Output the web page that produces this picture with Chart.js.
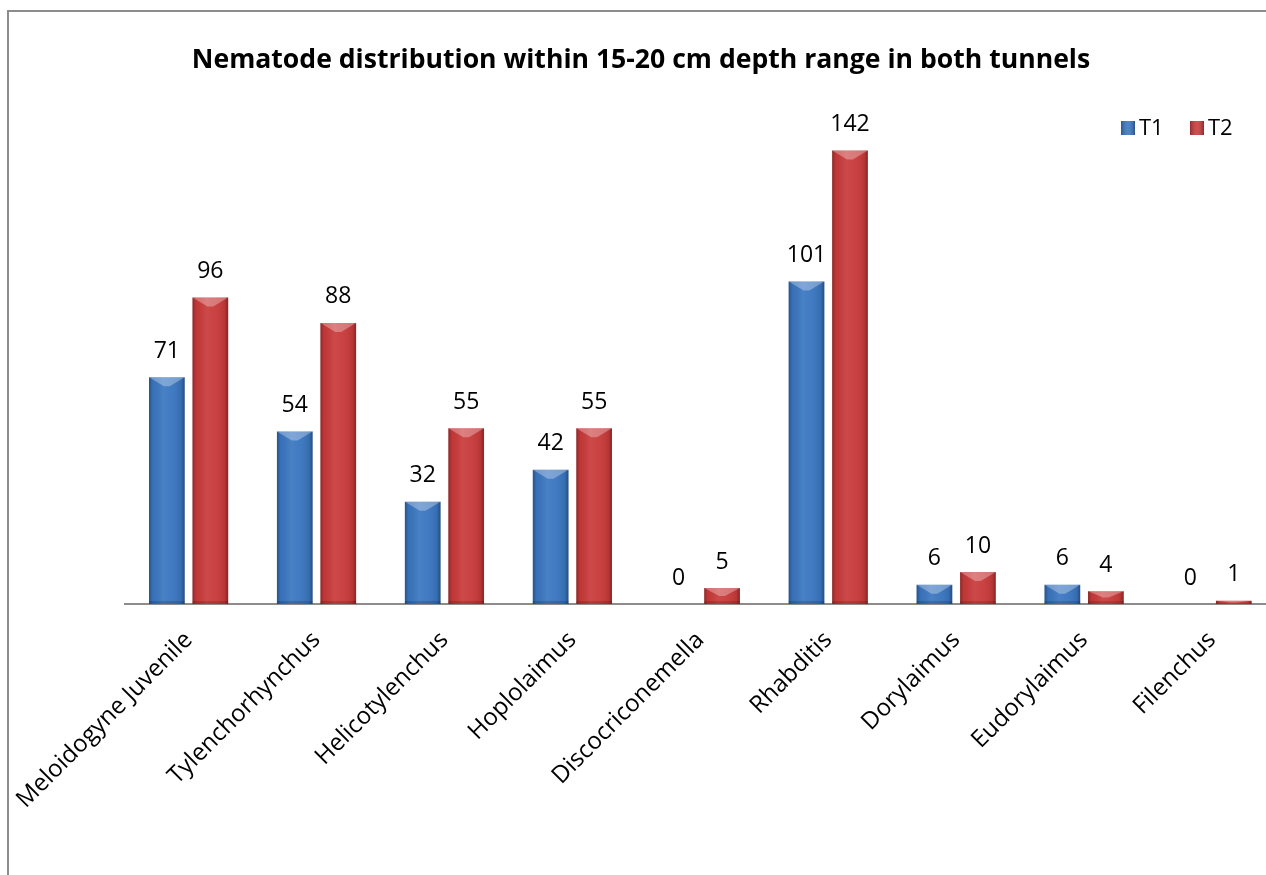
<!DOCTYPE html>
<html>
<head>
<meta charset="utf-8">
<script src="https://cdn.jsdelivr.net/npm/chart.js@4/dist/chart.umd.min.js"></script>
<style>
  html, body { margin: 0; padding: 0; background: #fff; overflow: hidden; }
  #wrap { position: relative; width: 1266px; height: 875px; overflow: hidden; }
  #frame {
    position: absolute; left: 7px; top: 10px; width: 1400px; height: 1000px;
    border-left: 2px solid #8c8c8c; border-top: 2px solid #8c8c8c;
  }
  #chart { position: absolute; left: 0; top: 0; }
</style>
</head>
<body>
<div id="wrap">
  <div id="frame"></div>
  <canvas id="chart" width="1290" height="875"></canvas>
</div>
<script>
const categories = [
  'Meloidogyne Juvenile', 'Tylenchorhynchus', 'Helicotylenchus', 'Hoplolaimus',
  'Discocriconemella', 'Rhabditis', 'Dorylaimus', 'Eudorylaimus', 'Filenchus'
]
const t1 = [71, 54, 32, 42, 0, 101, 6, 6, 0]
const t2 = [96, 88, 55, 55, 5, 142, 10, 4, 1]
const seriesNames = ['T1', 'T2']
const seriesColors = ['#3a76c0', '#c93a3a']

const FONT = '"Open Sans", sans-serif'

// value labels above each bar
const barLabels = {
  id: 'barLabels',
  afterDatasetsDraw (chart) {
    const ctx = chart.ctx
    ctx.save()
    ctx.font = '23px ' + FONT
    ctx.fillStyle = '#000'
    ctx.textAlign = 'center'
    ctx.textBaseline = 'middle'
    chart.data.datasets.forEach((ds, i) => {
      chart.getDatasetMeta(i).data.forEach((bar, j) => {
        ctx.fillText(String(ds.data[j]), bar.x, bar.y - 26)
      })
    })
    ctx.restore()
  }
}

// bevelled look: darker sides, light ridge, lighter top facet
const bevel = {
  id: 'bevel',
  afterDatasetsDraw (chart) {
    const ctx = chart.ctx
    chart.data.datasets.forEach((ds, i) => {
      chart.getDatasetMeta(i).data.forEach((bar) => {
        const l = bar.x - bar.width / 2
        const r = bar.x + bar.width / 2
        const t = bar.y
        const b = bar.base
        const h = b - t
        if (h <= 0) return
        ctx.save()
        const g = ctx.createLinearGradient(l, 0, r, 0)
        g.addColorStop(0, 'rgba(0,0,0,0.3)')
        g.addColorStop(0.1, 'rgba(0,0,0,0.05)')
        g.addColorStop(0.4, 'rgba(255,255,255,0.08)')
        g.addColorStop(0.6, 'rgba(255,255,255,0.04)')
        g.addColorStop(0.9, 'rgba(0,0,0,0.08)')
        g.addColorStop(1, 'rgba(0,0,0,0.35)')
        ctx.fillStyle = g
        ctx.fillRect(l, t, r - l, h)
        // bottom shade
        const bh = Math.min(3, h / 3)
        ctx.fillStyle = 'rgba(0,0,0,0.15)'
        ctx.fillRect(l, b - bh, r - l, bh)
        // top facet
        const d = Math.min(9, h / 2)
        const inset = (r - l) * 0.42
        ctx.beginPath()
        ctx.moveTo(l, t)
        ctx.lineTo(r, t)
        ctx.lineTo(r - inset, t + d)
        ctx.lineTo(l + inset, t + d)
        ctx.closePath()
        ctx.fillStyle = 'rgba(255,255,255,0.3)'
        ctx.fill()
        ctx.restore()
      })
    })
  }
}

// legend in the top-right corner of the plot
const cornerLegend = {
  id: 'cornerLegend',
  afterDraw (chart) {
    const ctx = chart.ctx
    ctx.save()
    ctx.font = '22px ' + FONT
    ctx.textBaseline = 'middle'
    let x = 1121
    const y = 128
    chart.data.datasets.forEach((ds) => {
      ctx.fillStyle = ds.backgroundColor
      ctx.fillRect(x, y - 7, 14, 14)
      const g = ctx.createLinearGradient(x, 0, x + 14, 0)
      g.addColorStop(0, 'rgba(0,0,0,0.25)')
      g.addColorStop(0.5, 'rgba(255,255,255,0.1)')
      g.addColorStop(1, 'rgba(0,0,0,0.3)')
      ctx.fillStyle = g
      ctx.fillRect(x, y - 7, 14, 14)
      ctx.fillStyle = '#000'
      ctx.fillText(ds.label, x + 18, y + 1)
      x += 69
    })
    ctx.restore()
  }
}

new Chart(document.getElementById('chart'), {
  type: 'bar',
  data: {
    labels: categories,
    datasets: [
      { label: seriesNames[0], data: t1, backgroundColor: seriesColors[0] },
      { label: seriesNames[1], data: t2, backgroundColor: seriesColors[1] }
    ]
  },
  options: {
    responsive: false,
    animation: false,
    categoryPercentage: 0.68,
    barPercentage: 0.82,
    layout: { padding: { left: 6, right: 14, top: 0, bottom: 0 } },
    plugins: {
      legend: { display: false },
      tooltip: { enabled: false },
      title: {
        display: true,
        text: 'Nematode distribution within 15-20 cm depth range in both tunnels',
        color: '#000',
        font: { family: FONT, size: 26.6, weight: 'bold' },
        padding: { top: 44, bottom: 49 }
      }
    },
    scales: {
      x: {
        grid: { display: false },
        border: { display: true, color: '#8c8c8c', width: 2 },
        ticks: {
          color: '#000',
          font: { family: FONT, size: 24 },
          minRotation: 45,
          maxRotation: 45,
          padding: 14
        },
        afterFit (scale) { scale.height = 271 }
      },
      y: {
        // invisible axis, only reserves the left margin
        min: 0,
        max: 150,
        grid: { display: false },
        border: { display: false },
        ticks: { display: false },
        afterFit (scale) { scale.width = 118 }
      }
    }
  },
  plugins: [bevel, barLabels, cornerLegend]
})
</script>
</body>
</html>
